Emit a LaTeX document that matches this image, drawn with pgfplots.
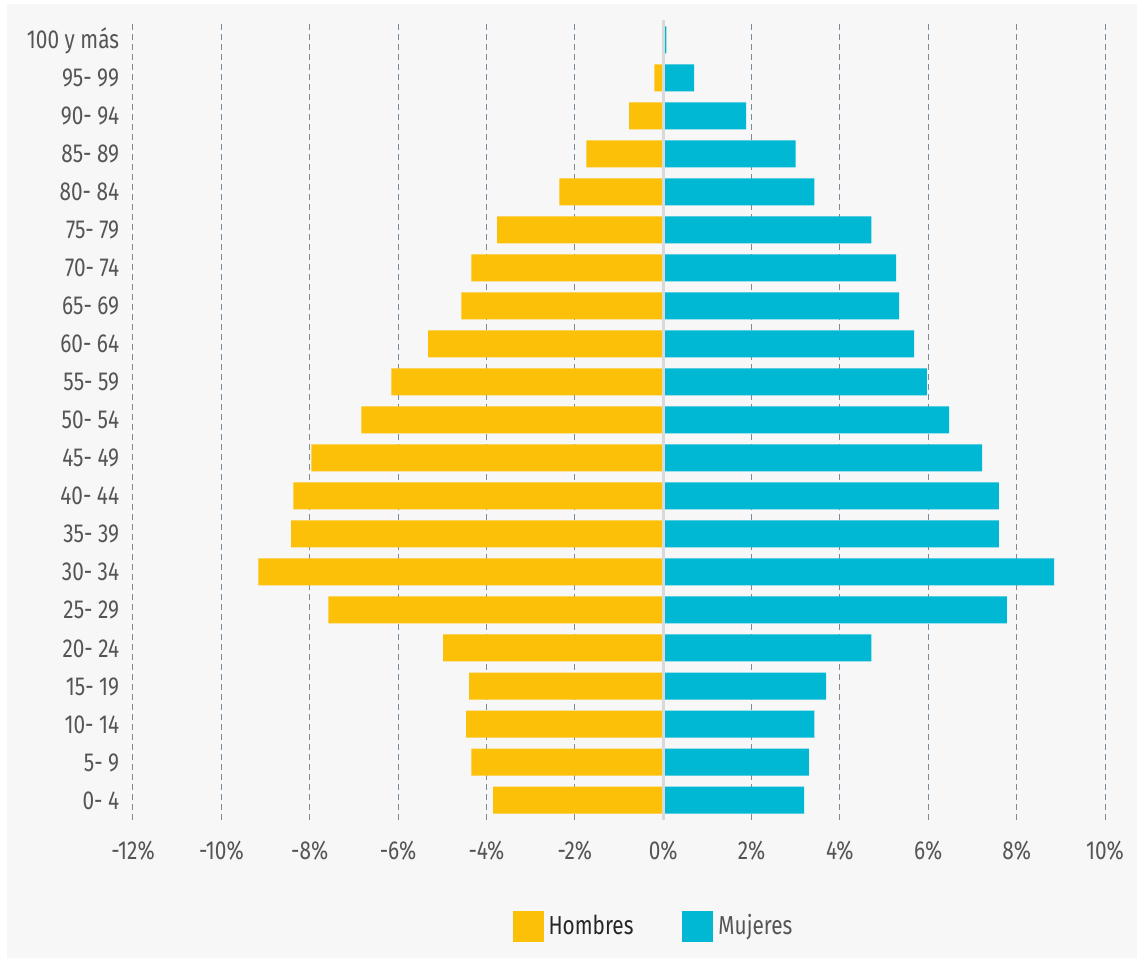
\documentclass[border=0pt]{standalone}
\usepackage{pgfplots}
\pgfplotsset{compat=1.18}
\usepackage{pgfplotstable}
\usepackage{fontspec}
\setmainfont{Fira Sans}[FakeStretch=0.8]
\definecolor{hom}{RGB}{253,192,8}
\definecolor{muj}{RGB}{0,184,212}
\definecolor{bg}{RGB}{247,247,247}
\definecolor{gridc}{RGB}{122,140,155}
\definecolor{txt}{RGB}{85,85,85}
\definecolor{zeroc}{RGB}{217,217,217}

\pgfplotstableread{
i H M
0 -3.85 3.19
1 -4.34 3.30
2 -4.46 3.42
3 -4.39 3.69
4 -4.98 4.71
5 -7.58 7.78
6 -9.16 8.85
7 -8.42 7.60
8 -8.37 7.60
9 -7.96 7.22
10 -6.83 6.47
11 -6.15 5.97
12 -5.32 5.68
13 -4.57 5.34
14 -4.34 5.27
15 -3.76 4.71
16 -2.35 3.42
17 -1.74 3.00
18 -0.77 1.88
19 -0.20 0.70
20 -0.02 0.07
}\datatab

\begin{document}
\begin{tikzpicture}
\fill[white] (0,0) rectangle (568.5pt,479pt);
\fill[bg] (3.5pt,0) rectangle (568.5pt,477pt);
\begin{axis}[
  at={(66.5pt,69pt)}, anchor=south west,
  scale only axis, width=486pt, height=400pt,
  xmin=-12, xmax=10, ymin=-0.526, ymax=20.526,
  axis line style={draw=none},
  major tick length=0pt,
  xtick={-12,-10,...,10},
  xticklabels={-12\%,-10\%,-8\%,-6\%,-4\%,-2\%,0\%,2\%,4\%,6\%,8\%,10\%},
  xticklabel style={font=\fontsize{13}{15}\selectfont, text=txt, anchor=base, yshift=-20pt},
  ytick={0,...,20},
  yticklabels={0- 4\hspace{9pt},5- 9\hspace{9pt},10- 14,15- 19,20- 24,25- 29,30- 34,35- 39,40- 44,45- 49,50- 54,55- 59,60- 64,65- 69,70- 74,75- 79,80- 84,85- 89,90- 94,95- 99,100 y más\hspace{-3pt}},
  yticklabel style={font=\fontsize{13}{15}\selectfont, text=txt, anchor=base east, inner sep=0pt, xshift=-6.75pt, yshift=-4.5pt},
  xmajorgrids, ymajorgrids=false,
  major grid style={gridc, dash pattern=on 3pt off 2pt, line width=0.5pt},
  xbar, bar width=13.5pt, bar shift=0pt,
  legend style={at={(0.537,-0.1325)}, anchor=center, draw=none, fill=none,
    font=\fontsize{13}{15}\selectfont, text=txt,
    /tikz/every even column/.append style={column sep=22pt},
    nodes={inner sep=2.5pt}},
  legend columns=2,
  legend image code/.code={\fill[#1] (0pt,-7.75pt) rectangle (15.5pt,7.75pt);},
]
\addplot[fill=hom, draw=none] table[x=H, y=i] {\datatab};
\addplot[fill=muj, draw=none] table[x=M, y=i] {\datatab};
\legend{\textcolor{black!85}{Hombres}, Mujeres}
\draw[zeroc, line width=1.5pt] (axis cs:0,-0.526) -- (axis cs:0,20.526);
\end{axis}
\pgfresetboundingbox
\useasboundingbox (0,0) rectangle (568.5pt,479pt);
\end{tikzpicture}
\end{document}
